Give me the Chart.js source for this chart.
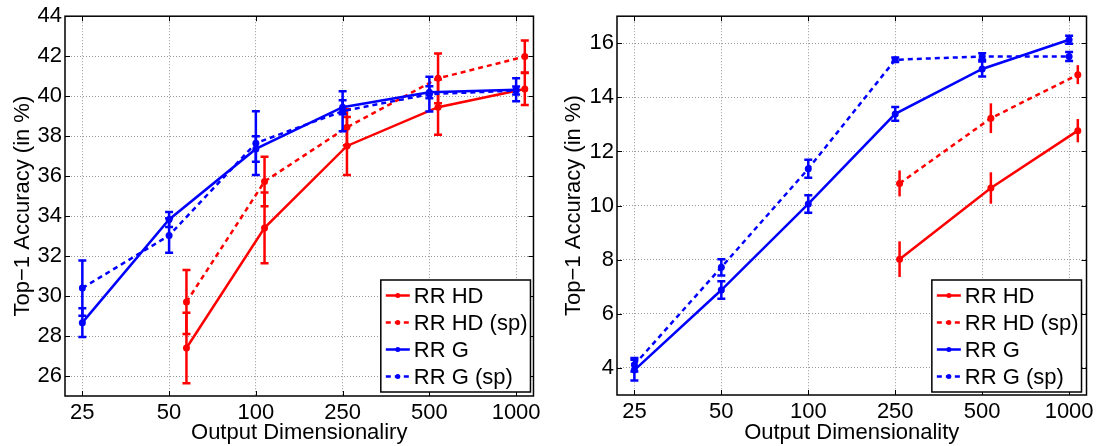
<!DOCTYPE html>
<html>
<head>
<meta charset="utf-8">
<script src="https://cdn.jsdelivr.net/npm/chart.js@4.4.0/dist/chart.umd.min.js"></script>
<style>
  html, body { margin: 0; padding: 0; background: #fff; }
  body { width: 1098px; height: 446px; position: relative; overflow: hidden; }
  .panel { position: absolute; top: 0; height: 446px; }
</style>
</head>
<body>
<div class="panel" style="left:0;width:545px"><canvas id="leftChart"></canvas></div>
<div class="panel" style="left:548px;width:550px"><canvas id="rightChart"></canvas></div>
<script>
// --- DATA ---
const xLabels = ['25', '50', '100', '250', '500', '1000'];
const seriesNames = ['RR HD', 'RR HD (sp)', 'RR G', 'RR G (sp)'];
const posG = [0, 1, 2, 3, 4, 5];

// left panel
const leftYTicks = [26, 28, 30, 32, 34, 36, 38, 40, 42, 44];
const leftPosHD = [1.2, 2.1, 3.05, 4.1, 5.1];
const leftHD = [27.4, 33.41, 37.51, 39.45, 40.36];
const leftHDErr = [1.76, 1.77, 1.45, 1.38, 0.8];
const leftHDsp = [29.7, 35.73, 38.44, 40.89, 41.98];
const leftHDspErr = [1.6, 1.24, 0.9, 1.25, 0.8];
const leftG = [28.67, 33.83, 37.36, 39.45, 40.2, 40.32];
const leftGErr = [0.72, 0.37, 0.64, 0.35, 0.3, 0.57];
const leftGsp = [30.4, 33.03, 37.65, 39.25, 40.1, 40.28];
const leftGspErr = [1.38, 0.86, 1.6, 1.0, 0.87, 0.2];

// right panel
const rightYTicks = [4, 6, 8, 10, 12, 14, 16];
const rightPosHD = [3.05, 4.1, 5.1];
const rightHD = [8.02, 10.65, 12.77];
const rightHDErr = [0.66, 0.58, 0.43];
const rightHDsp = [10.82, 13.23, 14.84];
const rightHDspErr = [0.48, 0.55, 0.35];
const rightG = [3.92, 6.88, 10.06, 13.39, 15.05, 16.13];
const rightGErr = [0.38, 0.32, 0.32, 0.25, 0.28, 0.15];
const rightGsp = [4.12, 7.72, 11.36, 15.39, 15.51, 15.51];
const rightGspErr = [0.25, 0.3, 0.33, 0.08, 0.12, 0.17];

const RED = '#ff0000';
const BLUE = '#0000ff';
const FONT = { family: '"Liberation Sans", Arial, sans-serif', size: 22 };

// --- PLUGINS ---

// vertical error bars, drawn right after each dataset
const errorBars = {
    id: 'errorBars',
    afterDatasetDraw(chart, args) {
        const ds = chart.data.datasets[args.index];
        if (!ds.errors) return;
        const { ctx } = chart;
        const xs = chart.scales.x, ys = chart.scales.y;
        ctx.save();
        ctx.strokeStyle = ds.borderColor;
        ctx.lineWidth = 2.5;
        ctx.setLineDash([]);
        ds.data.forEach((p, i) => {
            const e = ds.errors[i];
            const px = xs.getPixelForValue(p.x);
            const top = ys.getPixelForValue(p.y + e);
            const bot = ys.getPixelForValue(p.y - e);
            ctx.beginPath();
            ctx.moveTo(px, top);
            ctx.lineTo(px, bot);
            if (ds.capWidth) {
                const c = ds.capWidth / 2;
                ctx.moveTo(px - c, top); ctx.lineTo(px + c, top);
                ctx.moveTo(px - c, bot); ctx.lineTo(px + c, bot);
            }
            ctx.stroke();
        });
        ctx.restore();
    }
};

// box around the axes, inner tick marks and the legend
const frameAndLegend = {
    id: 'frameAndLegend',
    afterDraw(chart, args, opts) {
        const { ctx, chartArea: a } = chart;
        const xs = chart.scales.x, ys = chart.scales.y;
        ctx.save();
        ctx.setLineDash([]);
        ctx.strokeStyle = '#000';
        ctx.lineWidth = 1;

        // inner ticks
        const tl = 5;
        ctx.beginPath();
        xs.ticks.forEach(t => {
            const px = Math.round(xs.getPixelForValue(t.value)) + 0.5;
            ctx.moveTo(px, a.bottom); ctx.lineTo(px, a.bottom - tl);
            ctx.moveTo(px, a.top); ctx.lineTo(px, a.top + tl);
        });
        ys.ticks.forEach(t => {
            const py = Math.round(ys.getPixelForValue(t.value)) + 0.5;
            ctx.moveTo(a.left, py); ctx.lineTo(a.left + tl, py);
            ctx.moveTo(a.right, py); ctx.lineTo(a.right - tl, py);
        });
        ctx.stroke();

        ctx.lineWidth = 1.5;
        ctx.strokeRect(a.left, a.top, a.right - a.left, a.bottom - a.top);

        // legend
        const items = chart.data.datasets;
        ctx.font = `${FONT.size}px ${FONT.family}`;
        const rowH = 27, padL = 5, lineLen = 24, gap = 4;
        const textW = Math.max(...items.map(d => ctx.measureText(d.label).width));
        const w = padL + lineLen + gap + textW + 3;
        const h = rowH * items.length + 4;
        const x0 = a.right - opts.right - w;
        const y0 = a.bottom - opts.bottom - h;
        ctx.fillStyle = '#fff';
        ctx.fillRect(x0, y0, w, h);
        ctx.lineWidth = 1.5;
        ctx.strokeRect(x0, y0, w, h);
        items.forEach((d, i) => {
            const cy = y0 + 2 + rowH * (i + 0.5);
            ctx.strokeStyle = d.borderColor;
            ctx.lineWidth = d.borderWidth;
            ctx.setLineDash(d.borderDash || []);
            ctx.beginPath();
            ctx.moveTo(x0 + padL, cy);
            ctx.lineTo(x0 + padL + lineLen, cy);
            ctx.stroke();
            ctx.setLineDash([]);
            ctx.fillStyle = d.borderColor;
            ctx.beginPath();
            ctx.arc(x0 + padL + lineLen / 2, cy, 2.5, 0, Math.PI * 2);
            ctx.fill();
            ctx.fillStyle = '#000';
            ctx.textBaseline = 'middle';
            ctx.textAlign = 'left';
            ctx.fillText(d.label, x0 + padL + lineLen + gap, cy + 1);
        });
        ctx.restore();
    }
};

// --- CHART BUILDER ---
function series(label, xs, ys, errs, color, dashed, cap, order) {
    return {
        label: label,
        data: xs.map((x, i) => ({ x: x, y: ys[i] })),
        errors: errs,
        capWidth: cap,
        borderColor: color,
        backgroundColor: color,
        borderWidth: 2.5,
        borderDash: dashed ? [5, 4] : [],
        pointRadius: 3.5,
        pointBorderWidth: 0,
        pointBackgroundColor: color,
        tension: 0,
        order: order
    };
}

function makeChart(id, datasets, yTicks, yMin, yMax, layout) {
    const ctx = document.getElementById(id).getContext('2d');
    return new Chart(ctx, {
        type: 'line',
        data: { datasets: datasets },
        plugins: [errorBars, frameAndLegend],
        options: {
            responsive: true,
            maintainAspectRatio: false,
            animation: false,
            devicePixelRatio: 1,
            layout: { padding: { top: layout.top, right: layout.right, bottom: 0, left: 0 } },
            plugins: {
                legend: { display: false },
                tooltip: { enabled: false },
                frameAndLegend: { right: layout.legRight, bottom: layout.legBottom }
            },
            scales: {
                x: {
                    type: 'linear',
                    min: -0.2,
                    max: 5.2,
                    afterBuildTicks: s => { s.ticks = xLabels.map((_, i) => ({ value: i })); },
                    afterFit: s => { s.height = layout.xHeight; },
                    ticks: {
                        callback: v => xLabels[v],
                        font: FONT,
                        color: '#000',
                        padding: 4,
                        maxRotation: 0,
                        autoSkip: false
                    },
                    grid: { color: '#999', lineWidth: 1, drawTicks: false },
                    border: { display: false, dash: [1, 2] },
                    title: {
                        display: true,
                        text: layout.xTitle,
                        font: FONT,
                        color: '#000',
                        padding: { top: 0, bottom: 0 }
                    }
                },
                y: {
                    type: 'linear',
                    min: yMin,
                    max: yMax,
                    afterBuildTicks: s => { s.ticks = yTicks.map(v => ({ value: v })); },
                    afterFit: s => { s.width = layout.yWidth; },
                    ticks: { font: FONT, color: '#000', padding: 3 },
                    grid: { color: '#999', lineWidth: 1, drawTicks: false },
                    border: { display: false, dash: [1, 2] },
                    title: {
                        display: true,
                        text: 'Top\u22121 Accuracy (in %)',
                        font: FONT,
                        color: '#000',
                        padding: { top: layout.yTitlePad, bottom: 0 }
                    }
                }
            }
        }
    });
}

window.onload = () => {
    makeChart('leftChart', [
        series(seriesNames[0], leftPosHD, leftHD, leftHDErr, RED, false, 8, 4),
        series(seriesNames[1], leftPosHD, leftHDsp, leftHDspErr, RED, true, 8, 3),
        series(seriesNames[2], posG, leftG, leftGErr, BLUE, false, 8, 2),
        series(seriesNames[3], posG, leftGsp, leftGspErr, BLUE, true, 8, 1)
    ], leftYTicks, 25, 44, {
        top: 13, right: 11, xHeight: 50, yWidth: 65, yTitlePad: 10,
        legRight: 3, legBottom: 4, xTitle: 'Output Dimensionaliry'
    });

    makeChart('rightChart', [
        series(seriesNames[0], rightPosHD, rightHD, rightHDErr, RED, false, 0, 4),
        series(seriesNames[1], rightPosHD, rightHDsp, rightHDspErr, RED, true, 0, 3),
        series(seriesNames[2], posG, rightG, rightGErr, BLUE, false, 8, 2),
        series(seriesNames[3], posG, rightGsp, rightGspErr, BLUE, true, 8, 1)
    ], rightYTicks, 3, 17, {
        top: 15, right: 11, xHeight: 51, yWidth: 69, yTitlePad: 13,
        legRight: 5, legBottom: 3, xTitle: 'Output Dimensionality'
    });
};
</script>
</body>
</html>
